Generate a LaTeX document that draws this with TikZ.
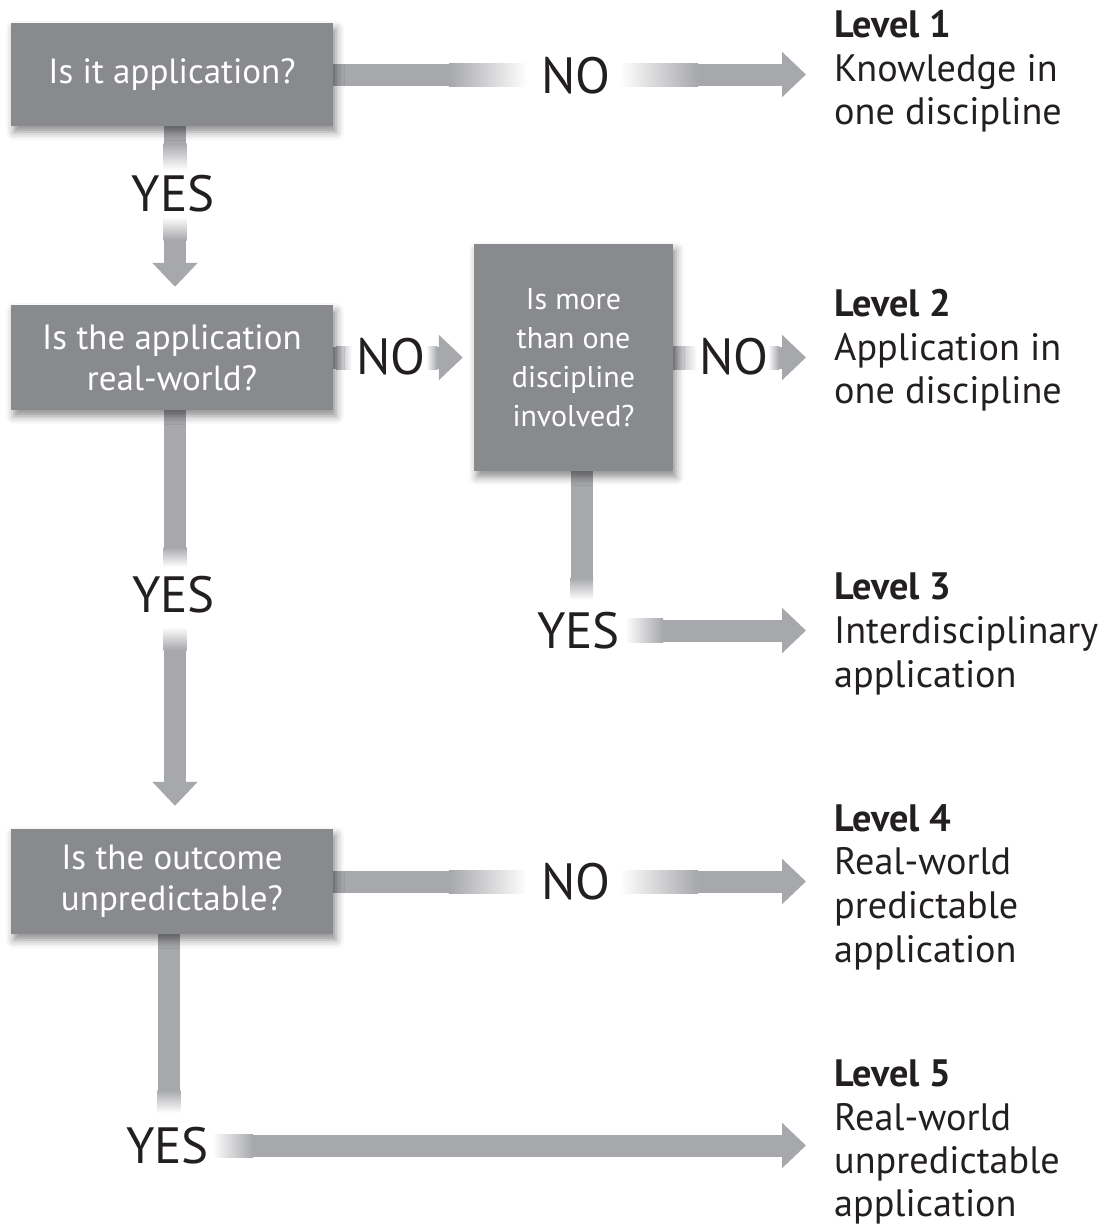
\documentclass[tikz,border=0pt]{standalone}
\usepackage{fontspec}
\setmainfont{PT Sans}
\usetikzlibrary{arrows.meta,shadows.blur,calc}
\pgfdeclarelayer{bg}
\pgfsetlayers{bg,main}
\definecolor{boxgray}{HTML}{898A8E}
\definecolor{bargray}{HTML}{A7A8AC}
\definecolor{inktext}{HTML}{231F20}
\begin{document}
\begin{tikzpicture}[x=1pt,y=-1pt,
  qbox/.style={fill=boxgray, draw=none, text=white, align=center, inner sep=0pt,
    blur shadow={shadow xshift=3pt, shadow yshift=-6pt, shadow blur radius=8pt, shadow opacity=45}},
  bigq/.style={font=\fontsize{35}{41}\selectfont},
  smallq/.style={font=\fontsize{30}{39}\selectfont},
  yn/.style={font=\fontsize{51}{51}\selectfont, text=inktext, inner sep=0pt},
  lvl/.style={font=\fontsize{38.2}{43.7}\selectfont, text=inktext, align=left, inner xsep=28pt, inner ysep=0pt, anchor=north west},
  bar/.style={draw=bargray, line width=22pt},
  tip/.style={-{Triangle[width=44pt,length=24pt]}},
  ]
\useasboundingbox (0,0) rectangle (1104,1226);

% question boxes
\node[qbox,bigq,minimum width=322pt,minimum height=103pt] (q1) at (172,74.5) {Is it application?};
\node[qbox,bigq,minimum width=322pt,minimum height=105pt] (q2) at (172,357.5) {Is the application\\real-world?};
\node[qbox,smallq,minimum width=199pt,minimum height=227pt] (q3) at (573.5,357.5) {Is more\\than one\\discipline\\involved?};
\node[qbox,bigq,minimum width=322pt,minimum height=105pt] (q4) at (172,881.5) {Is the outcome\\unpredictable?};

% level labels
\node[lvl] (L1) at (806,10) {\textbf{Level 1}\\Knowledge in\\one discipline};
\node[lvl] (L2) at (806,289) {\textbf{Level 2}\\Application in\\one discipline};
\node[lvl] (L3) at (806,573) {\textbf{Level 3}\\Interdisciplinary\\application};
\node[lvl] (L4) at (806,804) {\textbf{Level 4}\\Real-world\\predictable\\application};
\node[lvl,font=\fontsize{38.2}{43.2}\selectfont] (L5) at (806,1060) {\textbf{Level 5}\\Real-world\\unpredictable\\application};

% yes / no labels
\node[yn] (n1) at (576,75.5) {NO};
\node[yn] (y1) at (173,193.5) {YES};
\node[yn] (n2) at (391,356.5) {NO};
\node[yn] (n3) at (734,356.5) {NO};
\node[yn] (y3) at (578.5,630.5) {YES};
\node[yn] (y2) at (173.5,595) {YES};
\node[yn] (n4) at (576,882) {NO};
\node[yn] (y5) at (167.5,1145.5) {YES};

\begin{pgfonlayer}{bg}
  % connectors
  \draw[bar,tip] (q1.east) -- (q1.east -| L1.west);
  \draw[bar,tip,shorten >=18pt] ([xshift=3pt]q1.south) -- ([xshift=3pt]q2.north);
  \draw[bar,tip,shorten >=11pt] (q2.east) -- (q3.west);
  \draw[bar,tip] (q3.east) -- (q3.east -| L2.west);
  \draw[bar,tip] ([xshift=8pt]q3.south) |- (L3.west |- y3);
  \draw[bar,tip,shorten >=23pt] ([xshift=3pt]q2.south) -- ([xshift=3pt]q4.north);
  \draw[bar,tip] (q4.east) -- (q4.east -| L4.west);
  \draw[bar,tip] ([xshift=-3pt]q4.south) |- (L5.west |- y5);

  % fades around labels
  % q1 -> L1
  \shade[left color=bargray,right color=white] (449,63) rectangle (527,86);
  \fill[white] (527,63) rectangle (620,86);
  \shade[left color=white,right color=bargray] (620,63) rectangle (698,86);
  % q4 -> L4
  \shade[left color=bargray,right color=white] (449,870) rectangle (527,893);
  \fill[white] (527,870) rectangle (620,893);
  \shade[left color=white,right color=bargray] (620,870) rectangle (698,893);
  % q1 -> q2
  \shade[top color=bargray,bottom color=white] (163.5,143) rectangle (186.5,170);
  \fill[white] (163.5,170) rectangle (186.5,217);
  \shade[top color=white,bottom color=bargray] (163.5,217) rectangle (186.5,240);
  % q2 -> q4
  \shade[top color=bargray,bottom color=white] (163.5,547) rectangle (186.5,567);
  \fill[white] (163.5,567) rectangle (186.5,627);
  \shade[top color=white,bottom color=bargray] (163.5,627) rectangle (186.5,650);
  % q2 -> q3
  \shade[left color=bargray,right color=white] (336,346) rectangle (352,369);
  \fill[white] (352,346) rectangle (426,369);
  \shade[left color=white,right color=bargray] (426,346) rectangle (437,369);
  % q3 -> L2
  \shade[left color=bargray,right color=white] (673,346) rectangle (697,369);
  \fill[white] (697,346) rectangle (768,369);
  \shade[left color=white,right color=bargray] (768,346) rectangle (779,369);
  % q3 -> L3
  \shade[top color=bargray,bottom color=white] (570,578) rectangle (593,600);
  \fill[white] (570,600) rectangle (625,642);
  \shade[left color=white,right color=bargray] (625,618.5) rectangle (663,642);
  % q4 -> L5
  \shade[top color=bargray,bottom color=white] (157.5,1090) rectangle (180.5,1113);
  \fill[white] (157.5,1113) rectangle (212,1157);
  \shade[left color=white,right color=bargray] (212,1134) rectangle (253,1157);
\end{pgfonlayer}
\end{tikzpicture}
\end{document}
